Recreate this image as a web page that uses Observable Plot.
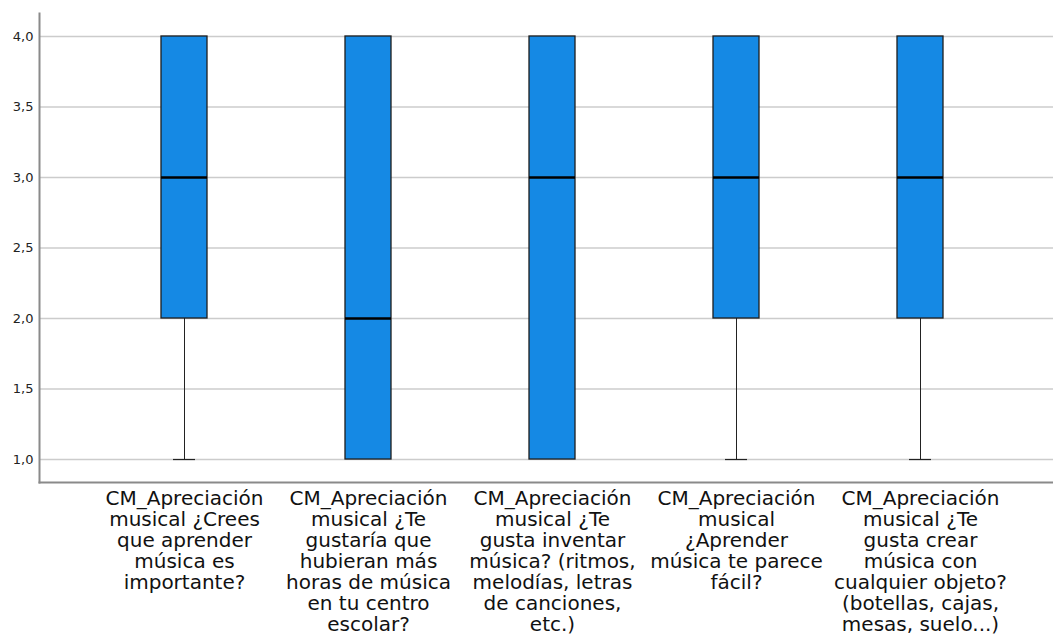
<!DOCTYPE html>
<html>
<head>
<meta charset="utf-8">
<script src="https://cdn.jsdelivr.net/npm/d3@7"></script>
<script src="https://cdn.jsdelivr.net/npm/@observablehq/plot@0.6"></script>
<style>
  html, body { margin: 0; padding: 0; background: #fff; }
</style>
</head>
<body>
<div id="chart"></div>
<script>
const categories = [
  "CM_Apreciación\nmusical ¿Crees\nque aprender\nmúsica es\nimportante?",
  "CM_Apreciación\nmusical ¿Te\ngustaría que\nhubieran más\nhoras de música\nen tu centro\nescolar?",
  "CM_Apreciación\nmusical ¿Te\ngusta inventar\nmúsica? (ritmos,\nmelodías, letras\nde canciones,\netc.)",
  "CM_Apreciación\nmusical\n¿Aprender\nmúsica te parece\nfácil?",
  "CM_Apreciación\nmusical ¿Te\ngusta crear\nmúsica con\ncualquier objeto?\n(botellas, cajas,\nmesas, suelo...)"
];
const minValues = [1, 1, 1, 1, 1];
const q1Values = [2, 1, 1, 2, 2];
const medianValues = [3, 2, 3, 3, 3];
const q3Values = [4, 4, 4, 4, 4];
const maxValues = [4, 4, 4, 4, 4];
const yTicks = [1, 1.5, 2, 2.5, 3, 3.5, 4];

const rows = categories.map((cat, i) => ({
  cat, min: minValues[i], q1: q1Values[i], med: medianValues[i], q3: q3Values[i], max: maxValues[i]
}));
const lowerWhiskers = rows.filter(d => d.min < d.q1);
const upperWhiskers = rows.filter(d => d.max > d.q3);

const chart = Plot.plot({
  width: 1053,
  height: 643,
  marginLeft: 39,
  marginRight: 0,
  marginTop: 13,
  marginBottom: 161,
  style: { fontFamily: "DejaVu Sans", background: "white" },
  x: { type: "band", domain: categories, range: [91, 1012], padding: 0 },
  y: { domain: [0.837, 4.163] },
  marks: [
    Plot.ruleY(yTicks, { stroke: "#cccccc", strokeWidth: 1.5 }),
    Plot.frame({ anchor: "left", stroke: "#8a8a8a", strokeWidth: 2 }),
    Plot.frame({ anchor: "bottom", stroke: "#8a8a8a", strokeWidth: 2 }),
    Plot.axisY(yTicks, {
      tickSize: 0, tickPadding: 6, fontSize: 13, fill: "#222",
      tickFormat: d => d.toFixed(1).replace(".", ","), label: null
    }),
    Plot.axisX({
      tickSize: 0, tickPadding: 8, fontSize: 20, lineHeight: 1.05, fill: "#111", label: null
    }),
    Plot.ruleX(lowerWhiskers, { x: "cat", y1: "min", y2: "q1", stroke: "#222", strokeWidth: 1 }),
    Plot.tickY(lowerWhiskers, { x: "cat", y: "min", stroke: "#222", strokeWidth: 1.2, insetLeft: 81, insetRight: 81 }),
    Plot.ruleX(upperWhiskers, { x: "cat", y1: "q3", y2: "max", stroke: "#222", strokeWidth: 1 }),
    Plot.tickY(upperWhiskers, { x: "cat", y: "max", stroke: "#222", strokeWidth: 1.2, insetLeft: 81, insetRight: 81 }),
    Plot.barY(rows, { x: "cat", y1: "q1", y2: "q3", fill: "#1589e4", stroke: "#1e1e1e", strokeWidth: 1.3, insetLeft: 69, insetRight: 69 }),
    Plot.tickY(rows, { x: "cat", y: "med", stroke: "#000", strokeWidth: 2.5, insetLeft: 69, insetRight: 69 })
  ]
});
document.getElementById("chart").appendChild(chart);
</script>
</body>
</html>
